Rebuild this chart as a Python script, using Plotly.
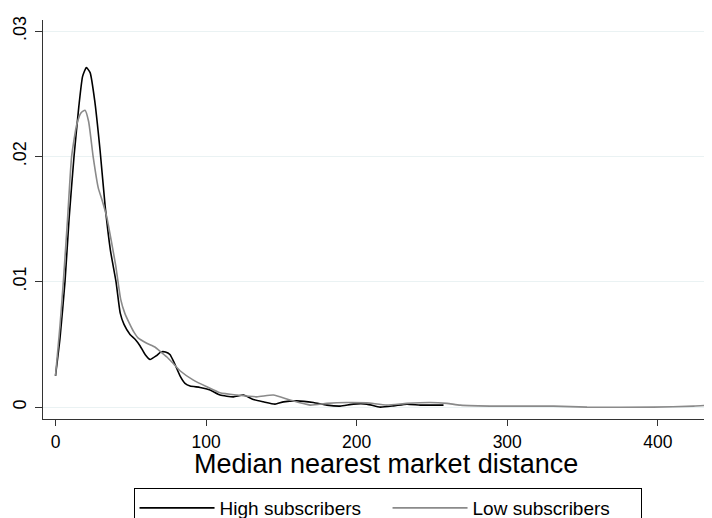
import plotly.graph_objects as go

# High subscribers density
high_x = [0, 3, 6.3, 9, 12.3, 15.5, 18, 20.5, 23, 26, 29.6, 33, 36.5, 40.2, 43, 45.5,
          49.5, 53, 56.1, 59.5, 62.8, 67, 70, 73, 76, 79, 82.7, 86, 89.4, 96, 102.7,
          109.3, 118.2, 124.8, 131.4, 138, 145.8, 151.4, 160.3, 171.3, 180.2, 189,
          197.9, 206.8, 215.6, 224.5, 233.4, 242.2, 250, 257.7]
high_y = [0.0025, 0.0055, 0.0100, 0.0150, 0.0200, 0.0240, 0.0264, 0.0271, 0.0267, 0.0245,
          0.0205, 0.0160, 0.0125, 0.0100, 0.0075, 0.0066, 0.0058, 0.0054, 0.0049, 0.0042,
          0.0038, 0.0041, 0.0044, 0.0044, 0.0042, 0.0035, 0.0025, 0.0019, 0.00168, 0.00157,
          0.00136, 0.00096, 0.00082, 0.00096, 0.00060, 0.00042, 0.00024, 0.00042, 0.00050,
          0.00037, 0.00016, 0.00008, 0.00024, 0.00024, 0.0, 0.0001, 0.00024, 0.00016,
          0.00016, 0.00016]

# Low subscribers density
low_x = [0, 3, 5.2, 8, 10.7, 14, 17, 19.6, 22, 25, 28.4, 31, 34, 37, 40, 43.3, 46, 49,
         52, 55, 60.6, 66, 70, 74, 78, 82.7, 91.6, 100.5, 109.3, 120.4, 133.7, 144.7,
         155.8, 169.1, 180.2, 193.5, 206.8, 220, 233.4, 248.8, 260, 268.8, 293, 330.8,
         353, 397, 423.8, 436]
low_y = [0.0025, 0.0065, 0.0100, 0.0150, 0.0200, 0.0225, 0.0235, 0.0237, 0.0228, 0.0200,
         0.0175, 0.0165, 0.0152, 0.0133, 0.0113, 0.0086, 0.0075, 0.0067, 0.0060, 0.0055,
         0.0051, 0.0048, 0.0044, 0.0040, 0.0035, 0.0029, 0.00215, 0.00162, 0.00114,
         0.00096, 0.00082, 0.00096, 0.00056, 0.00016, 0.00030, 0.00037, 0.00034, 0.00016,
         0.00030, 0.00037, 0.00030, 0.00016, 0.00008, 0.00008, 0.0, 0.0, 0.00008, 0.00016]

x_ticks = [0, 100, 200, 300, 400]
y_ticks = [0, 0.01, 0.02, 0.03]
y_ticklabels = ["0", ".01", ".02", ".03"]
x_title = "Median nearest market distance"

FONT = "Liberation Sans, Arial, sans-serif"

fig = go.Figure()
fig.add_trace(go.Scatter(x=high_x, y=high_y, mode="lines", name="High subscribers",
                         line=dict(color="#000000", width=1.6, shape="spline", smoothing=0.5)))
fig.add_trace(go.Scatter(x=low_x, y=low_y, mode="lines", name="Low subscribers",
                         line=dict(color="#8a8a8a", width=1.6, shape="spline", smoothing=0.5)))

# page body has an 8px margin, so the figure is 704x510 placed at (8, 8)
fig.update_layout(
    width=704, height=510,
    margin=dict(l=35, r=0, t=12, b=99, autoexpand=False),
    paper_bgcolor="white", plot_bgcolor="white",
    font=dict(family=FONT, color="#000000", size=18),
    showlegend=True,
    legend=dict(orientation="h", x=0.515, xanchor="center", y=-0.173, yanchor="top",
                bordercolor="#000000", borderwidth=1, bgcolor="white",
                font=dict(family=FONT, size=19, color="#000000"),
                itemwidth=75, entrywidth=163, tracegroupgap=0),
    xaxis=dict(range=[-8.3, 436], tickvals=x_ticks, ticks="outside", ticklen=6,
               tickcolor="#333333", showgrid=False, zeroline=False, automargin=False,
               showline=True, linecolor="#333333", linewidth=1,
               tickfont=dict(size=17.5), ticklabelstandoff=1),
    yaxis=dict(range=[-0.00095, 0.0309], tickvals=y_ticks, ticktext=y_ticklabels,
               ticks="outside", ticklen=7, tickcolor="#333333", tickangle=-90,
               showgrid=True, gridcolor="#eaf2f3", gridwidth=1, zeroline=False,
               automargin=False,
               showline=True, linecolor="#333333", linewidth=1,
               tickfont=dict(size=18), ticklabelstandoff=2),
    annotations=[dict(text=x_title, xref="paper", yref="paper", x=0.513, y=-0.112,
                      xanchor="center", yanchor="middle", showarrow=False,
                      font=dict(family=FONT, size=27, color="#000000"))],
)

fig.write_html("out.html")
